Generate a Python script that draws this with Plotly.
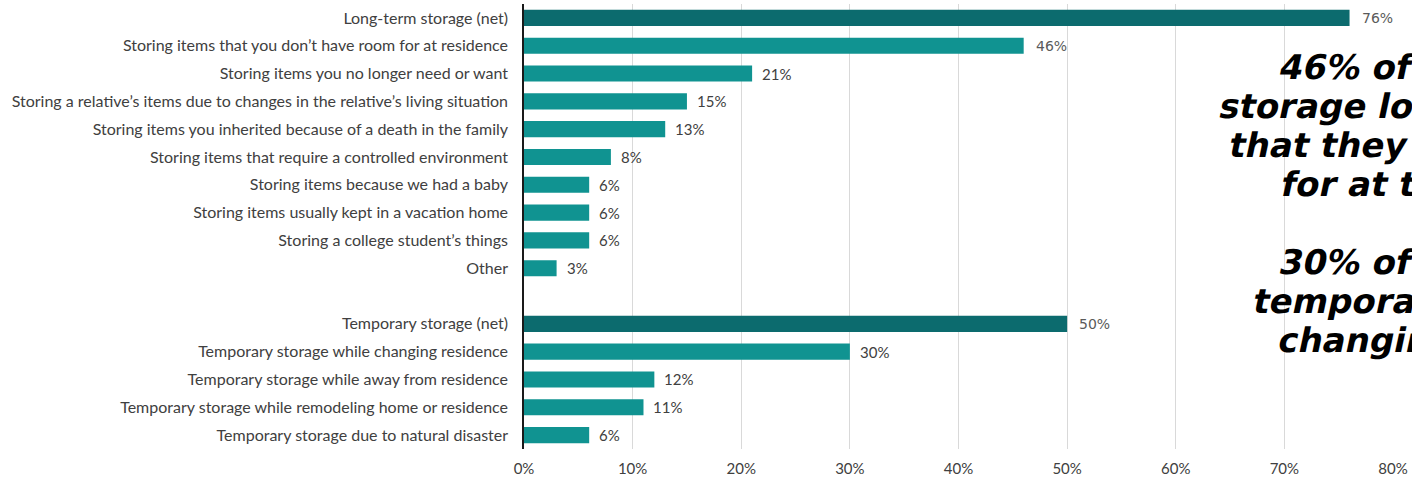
import plotly.graph_objects as go

# Reasons for using self-storage, share of respondents (%)
categories = [
    "Long-term storage (net)",
    "Storing items that you don’t have room for at residence",
    "Storing items you no longer need or want",
    "Storing a relative’s items due to changes in the relative’s living situation",
    "Storing items you inherited because of a death in the family",
    "Storing items that require a controlled environment",
    "Storing items because we had a baby",
    "Storing items usually kept in a vacation home",
    "Storing a college student’s things",
    "Other",
    " ",
    "Temporary storage (net)",
    "Temporary storage while changing residence",
    "Temporary storage while away from residence",
    "Temporary storage while remodeling home or residence",
    "Temporary storage due to natural disaster",
]
values = [76, 46, 21, 15, 13, 8, 6, 6, 6, 3, None, 50, 30, 12, 11, 6]
is_net = [True, False, False, False, False, False, False, False, False, False,
          False, True, False, False, False, False]

x_ticks = [0, 10, 20, 30, 40, 50, 60, 70, 80]
x_tick_labels = [f"{t}%" for t in x_ticks]

callout_lines = [
    "46% of customers use",
    "storage long-term for items",
    "that they don’t have room",
    "for at their residence",
    "",
    "30% of customers use",
    "temporary storage while",
    "changing residence",
]

NET_COLOR = "#0c6b6e"
ITEM_COLOR = "#109391"
LABEL_FONT = "Lato"
TEXT_GREY = "#404040"
CALLOUT_SIZE = 34

W, H = 1412, 481
M_L, M_R, M_T, M_B = 524, 16, 4, 32

bar_colors = [NET_COLOR if n else ITEM_COLOR for n in is_net]

fig = go.Figure(
    go.Bar(
        x=values,
        y=categories,
        orientation="h",
        marker=dict(color=bar_colors, line=dict(width=0)),
        width=0.58,
        hoverinfo="skip",
    )
)

# value labels just past the end of each bar; the net rows and the
# largest single reason use a wider face
top_item = max(v for v, n in zip(values, is_net) if v is not None and not n)
annotations = []
for cat, val, net in zip(categories, values, is_net):
    if val is None:
        continue
    wide = net or val == top_item
    annotations.append(dict(
        x=val, y=cat, xref="x", yref="y",
        text=f"{val}%", showarrow=False,
        xanchor="left", yanchor="middle", xshift=10 if wide else 8,
        font=dict(family="DejaVu Sans" if wide else LABEL_FONT,
                  size=14 if wide else 15,
                  color="#5a5a5a" if wide else TEXT_GREY),
    ))

# call-out text on the right, one annotation per line
plot_w = W - M_L - M_R
plot_h = H - M_T - M_B
line_starts = [1281, 1220, 1230, 1283, None, 1281, 1255, 1280]
first_baseline = 79
line_step = 39
for i, (txt, x0) in enumerate(zip(callout_lines, line_starts)):
    if not txt:
        continue
    baseline = first_baseline + i * line_step
    mid = baseline - 12
    annotations.append(dict(
        x=(x0 - M_L) / plot_w, y=1 - (mid - M_T) / plot_h,
        xref="paper", yref="paper",
        text=f"<b>{txt}</b>", showarrow=False,
        xanchor="left", yanchor="middle",
        font=dict(family="DejaVu Sans", size=CALLOUT_SIZE, color="#000000"),
    ))

fig.update_layout(
    width=W, height=H,
    margin=dict(l=M_L, r=M_R, t=M_T, b=M_B, pad=0),
    paper_bgcolor="white", plot_bgcolor="white",
    showlegend=False,
    bargap=0.42,
    annotations=annotations,
    font=dict(family=LABEL_FONT, size=15, color=TEXT_GREY),
)
fig.update_xaxes(
    range=[0, 80], tickvals=x_ticks, ticktext=x_tick_labels,
    showgrid=True, gridcolor="#d9d9d9", gridwidth=1,
    zeroline=False, showline=False, ticks="",
    tickfont=dict(family=LABEL_FONT, size=15, color=TEXT_GREY),
    ticklabelstandoff=9,
)
fig.update_yaxes(
    type="category", categoryorder="array", categoryarray=categories,
    autorange="reversed",
    showgrid=False, zeroline=False,
    showline=True, linecolor="#1a1a1a", linewidth=1.5,
    ticks="", ticklabelstandoff=11,
    tickfont=dict(family=LABEL_FONT, size=16, color=TEXT_GREY),
)

# slant the call-out lines (the installed DejaVu has no oblique face)
slant_js = """
document.querySelectorAll('#{plot_id} .annotation-text').forEach(function (t) {
  if (t.style.fontSize === '%dpx') {
    t.style.transformBox = 'fill-box';
    t.style.transformOrigin = '50%% 50%%';
    t.style.transform = 'skewX(-12deg)';
  }
});
""" % CALLOUT_SIZE

fig.write_html("out.html", post_script=slant_js)
